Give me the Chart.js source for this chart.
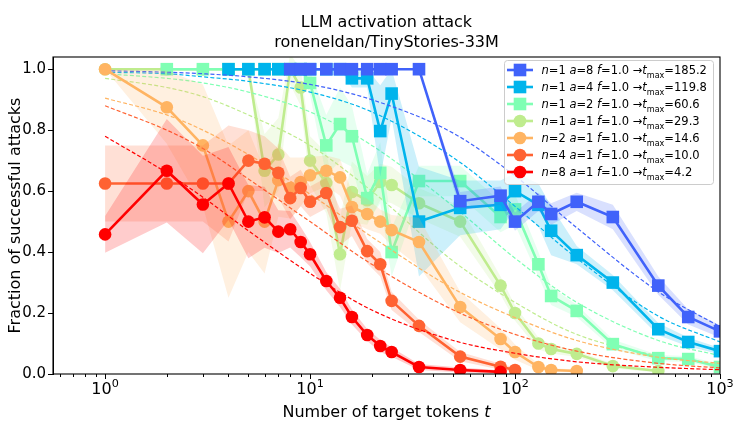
<!DOCTYPE html>
<html>
<head>
<meta charset="utf-8">
<script src="https://cdn.jsdelivr.net/npm/chart.js@4/dist/chart.umd.min.js"></script>
<style>
  html, body { margin: 0; padding: 0; background: #ffffff; }
  #c { display: block; }
</style>
</head>
<body>
<canvas id="c" width="733" height="424"></canvas>
<script>
// ---- measured success fractions (n = attack runs, a = attack tokens) ----
const tokensN1A8 = [8, 9, 10, 12, 14, 16, 19, 22, 25, 34, 54, 85, 100, 130, 150, 200, 300, 500, 700, 1000];
const successN1A8 = [1, 1, 1, 1, 1, 1, 1, 1, 1, 1, 0.567, 0.585, 0.50, 0.565, 0.525, 0.565, 0.515, 0.29, 0.187, 0.14];
const spreadN1A8 = [0, 0, 0, 0, 0, 0, 0, 0, 0, 0, 0.03, 0.03, 0.03, 0.03, 0.035, 0.03, 0.04, 0.03, 0.025, 0.02];

const tokensN1A4 = [4, 5, 6, 7, 8, 9, 10, 12, 14, 16, 19, 22, 25, 34, 54, 85, 100, 130, 150, 200, 300, 500, 700, 1000];
const successN1A4 = [1, 1, 1, 1, 1, 1, 1, 1, 1, 0.97, 0.97, 0.797, 0.92, 0.50, 0.545, 0.555, 0.60, 0.555, 0.47, 0.39, 0.30, 0.147, 0.105, 0.075];
const spreadN1A4 = [0, 0, 0, 0, 0, 0, 0, 0, 0, 0.03, 0.03, 0.15, 0.08, 0.18, 0.09, 0.08, 0.06, 0.07, 0.08, 0.03, 0.025, 0.02, 0.015, 0.01];

const tokensN1A2 = [2, 3, 4, 5, 6, 7, 8, 9, 10, 12, 14, 16, 19, 22, 25, 34, 54, 85, 100, 130, 150, 200, 300, 500, 700, 1000];
const successN1A2 = [1, 1, 1, 1, 1, 1, 1, 1, 0.955, 0.75, 0.82, 0.78, 0.577, 0.66, 0.40, 0.633, 0.633, 0.515, 0.54, 0.36, 0.256, 0.207, 0.098, 0.052, 0.049, 0.023];
const spreadN1A2 = [0, 0, 0, 0, 0, 0, 0, 0, 0.04, 0.1, 0.12, 0.1, 0.08, 0.1, 0.08, 0.05, 0.05, 0.05, 0.05, 0.04, 0.03, 0.02, 0.015, 0.01, 0.01, 0.008];

const tokensN1A1 = [1, 2, 3, 4, 5, 6, 7, 8, 9, 10, 12, 14, 16, 19, 22, 25, 34, 54, 85, 100, 130, 150, 200, 300, 500];
const successN1A1 = [1, 1, 1, 1, 1, 0.667, 0.72, 1, 0.94, 0.70, 0.627, 0.393, 0.597, 0.57, 0.63, 0.62, 0.56, 0.50, 0.29, 0.20, 0.10, 0.082, 0.066, 0.026, 0.01];
const spreadN1A1 = [0, 0, 0, 0, 0, 0.12, 0.12, 0.05, 0.06, 0.08, 0.1, 0.12, 0.1, 0.08, 0.06, 0.06, 0.05, 0.05, 0.03, 0.025, 0.02, 0.015, 0.01, 0.008, 0.005];

const tokensN2A1 = [1, 2, 3, 4, 5, 6, 7, 8, 9, 10, 12, 14, 16, 19, 22, 25, 34, 54, 85, 100, 130, 150, 200];
const successN2A1 = [1, 0.875, 0.75, 0.5, 0.6, 0.5, 0.636, 0.61, 0.63, 0.652, 0.667, 0.645, 0.548, 0.525, 0.5, 0.472, 0.433, 0.22, 0.115, 0.072, 0.023, 0.013, 0.01];
const spreadN2A1 = [0, 0.12, 0.2, 0.25, 0.2, 0.17, 0.12, 0.1, 0.08, 0.06, 0.05, 0.06, 0.05, 0.05, 0.04, 0.05, 0.08, 0.05, 0.035, 0.025, 0.01, 0.006, 0.005];

const tokensN4A1 = [1, 2, 3, 4, 5, 6, 7, 8, 9, 10, 12, 14, 16, 19, 22, 25, 34, 54, 85, 100];
const successN4A1 = [0.625, 0.625, 0.625, 0.625, 0.70, 0.69, 0.66, 0.577, 0.61, 0.565, 0.594, 0.482, 0.503, 0.403, 0.36, 0.24, 0.158, 0.057, 0.024, 0.013];
const spreadN4A1 = [0.125, 0.125, 0.125, 0.19, 0.1, 0.09, 0.08, 0.07, 0.06, 0.05, 0.05, 0.06, 0.05, 0.04, 0.04, 0.03, 0.02, 0.015, 0.01, 0.008];

const tokensN8A1 = [1, 2, 3, 4, 5, 6, 7, 8, 9, 10, 12, 14, 16, 19, 22, 25, 34, 54, 85];
const successN8A1 = [0.458, 0.667, 0.556, 0.625, 0.50, 0.514, 0.467, 0.475, 0.433, 0.393, 0.305, 0.25, 0.187, 0.128, 0.092, 0.072, 0.023, 0.013, 0.007];
const spreadN8A1 = [0.06, 0.17, 0.16, 0.12, 0.12, 0.1, 0.07, 0.06, 0.05, 0.04, 0.03, 0.03, 0.025, 0.02, 0.02, 0.015, 0.01, 0.008, 0.005];

// ---- fitted decay curves (dashed) ----
const fitTokens = [1, 2, 3, 5, 10, 20, 50, 100, 200, 500, 1000];
const fitN1A8 = [0.995, 0.99, 0.985, 0.975, 0.95, 0.90, 0.79, 0.65, 0.48, 0.27, 0.155];
const fitN1A4 = [0.99, 0.985, 0.975, 0.96, 0.925, 0.86, 0.71, 0.55, 0.38, 0.19, 0.105];
const fitN1A2 = [0.985, 0.97, 0.955, 0.925, 0.86, 0.75, 0.55, 0.38, 0.235, 0.11, 0.06];
const fitN1A1 = [0.97, 0.94, 0.91, 0.85, 0.75, 0.60, 0.37, 0.235, 0.13, 0.06, 0.03];
const fitN2A1 = [0.905, 0.85, 0.80, 0.72, 0.59, 0.45, 0.28, 0.185, 0.11, 0.055, 0.035];
const fitN4A1 = [0.88, 0.80, 0.74, 0.64, 0.50, 0.36, 0.21, 0.13, 0.075, 0.035, 0.02];
const fitN8A1 = [0.78, 0.66, 0.58, 0.47, 0.33, 0.21, 0.11, 0.068, 0.04, 0.022, 0.014];

// ---- legend parameters ----
const runCounts = [1, 1, 1, 1, 2, 4, 8];
const attackTokens = [8, 4, 2, 1, 1, 1, 1];
const fractions = ['1.0', '1.0', '1.0', '1.0', '1.0', '1.0', '1.0'];
const tmaxValues = ['185.2', '119.8', '60.6', '29.3', '14.6', '10.0', '4.2'];

// ---- axis ticks ----
const yTickValues = [0, 0.2, 0.4, 0.6, 0.8, 1.0];
const xMajorExponents = [0, 1, 2, 3];

// series in legend order, with styling
const runs = [
  { tokens: tokensN1A8, success: successN1A8, spread: spreadN1A8, fit: fitN1A8, rgb: [64, 98, 250], marker: 'rect' },
  { tokens: tokensN1A4, success: successN1A4, spread: spreadN1A4, fit: fitN1A4, rgb: [0, 180, 236], marker: 'rect' },
  { tokens: tokensN1A2, success: successN1A2, spread: spreadN1A2, fit: fitN1A2, rgb: [128, 255, 180], marker: 'rect' },
  { tokens: tokensN1A1, success: successN1A1, spread: spreadN1A1, fit: fitN1A1, rgb: [191, 236, 142], marker: 'circle' },
  { tokens: tokensN2A1, success: successN2A1, spread: spreadN2A1, fit: fitN2A1, rgb: [255, 180, 98], marker: 'circle' },
  { tokens: tokensN4A1, success: successN4A1, spread: spreadN4A1, fit: fitN4A1, rgb: [255, 98, 50], marker: 'circle' },
  { tokens: tokensN8A1, success: successN8A1, spread: spreadN8A1, fit: fitN8A1, rgb: [255, 0, 0], marker: 'circle' }
];
// stacking from bottom to top
const stacking = [3, 2, 1, 0, 4, 5, 6];

const FONT = '"DejaVu Sans", "Liberation Sans", sans-serif';
const rgba = (c, a) => `rgba(${c[0]},${c[1]},${c[2]},${a})`;
const CIRCLE_R = 6.3;
const RECT_R = 12.6 / Math.SQRT2;

const datasets = [];
stacking.forEach((ri, level) => {
  const r = runs[ri];
  const base = 1000 - level * 10;
  const upperIndex = datasets.length;
  datasets.push({
    data: r.tokens.map((t, i) => ({ x: t, y: r.success[i] + r.spread[i] })),
    borderWidth: 0, pointRadius: 0, fill: false, tension: 0, clip: 0,
    order: base
  });
  datasets.push({
    data: r.tokens.map((t, i) => ({ x: t, y: r.success[i] - r.spread[i] })),
    borderWidth: 0, pointRadius: 0, tension: 0, clip: 0,
    fill: { target: upperIndex },
    backgroundColor: rgba(r.rgb, 0.2),
    order: base - 1
  });
  datasets.push({
    data: r.tokens.map((t, i) => ({ x: t, y: r.success[i] })),
    borderColor: rgba(r.rgb, 1), backgroundColor: rgba(r.rgb, 1),
    borderWidth: 2.6, tension: 0, fill: false, clip: 0,
    pointStyle: r.marker,
    pointRadius: r.marker === 'rect' ? RECT_R : CIRCLE_R,
    pointBorderWidth: 0,
    order: base - 2
  });
  datasets.push({
    data: fitTokens.map((t, i) => ({ x: t, y: r.fit[i] })),
    borderColor: rgba(r.rgb, 1), borderWidth: 1.2, borderDash: [4, 2.2],
    pointRadius: 0, fill: false, clip: 0,
    cubicInterpolationMode: 'monotone',
    order: base - 3
  });
});

// draw a run of text pieces (plain, italic, subscript, superscript)
function richText(ctx, parts, x, y, size, align) {
  const fontOf = p => (p.italic ? 'italic ' : '') + ((p.sub || p.sup) ? size * 0.7 : size) + 'px ' + FONT;
  let total = 0;
  parts.forEach(p => { ctx.font = fontOf(p); p.w = ctx.measureText(p.t).width; total += p.w; });
  let cx = align === 'center' ? x - total / 2 : x;
  parts.forEach(p => {
    ctx.font = fontOf(p);
    const dy = p.sub ? size * 0.28 : (p.sup ? -size * 0.42 : 0);
    ctx.fillText(p.t, cx, y + dy);
    cx += p.w;
  });
  return total;
}

const decorations = {
  id: 'decorations',
  afterDatasetsDraw(chart) {
    const { ctx, chartArea: area, scales } = chart;
    const xs = scales.x;
    ctx.save();
    ctx.fillStyle = '#000';
    ctx.strokeStyle = '#000';
    ctx.textBaseline = 'alphabetic';

    // axes frame
    ctx.lineWidth = 1.1;
    ctx.strokeRect(area.left, area.top, area.right - area.left, area.bottom - area.top);

    // log ticks on the x axis
    ctx.lineWidth = 1;
    for (let e = -1; e <= 3; e++) {
      for (let m = 1; m <= 9; m++) {
        const v = m * Math.pow(10, e);
        if (v < xs.min || v > xs.max * 1.0001) continue;
        const px = Math.round(xs.getPixelForValue(v)) + 0.5;
        const len = m === 1 ? 5 : 3;
        ctx.beginPath();
        ctx.moveTo(px, area.bottom);
        ctx.lineTo(px, area.bottom + len);
        ctx.stroke();
      }
    }
    ctx.fillStyle = '#000';
    xMajorExponents.forEach(e => {
      const px = xs.getPixelForValue(Math.pow(10, e));
      richText(ctx, [{ t: '10' }, { t: String(e), sup: true }], px, area.bottom + 20, 16, 'center');
    });

    // axis titles
    richText(ctx, [{ t: 'Number of target tokens ' }, { t: 't', italic: true }],
      (area.left + area.right) / 2, 417, 16, 'center');
    ctx.save();
    ctx.translate(20, (area.top + area.bottom) / 2);
    ctx.rotate(-Math.PI / 2);
    ctx.font = '16px ' + FONT;
    ctx.textAlign = 'center';
    ctx.fillText('Fraction of successful attacks', 0, 0);
    ctx.restore();

    // title
    ctx.font = '16px ' + FONT;
    ctx.textAlign = 'center';
    const cx = (area.left + area.right) / 2;
    ctx.fillText('LLM activation attack', cx, 27);
    ctx.fillText('roneneldan/TinyStories-33M', cx, 47);
    ctx.textAlign = 'left';

    // legend
    const box = { l: 504.5, t: 60.5, r: 713.5, b: 184.5 };
    ctx.beginPath();
    ctx.roundRect(box.l, box.t, box.r - box.l, box.b - box.t, 3);
    ctx.fillStyle = 'rgba(255,255,255,0.8)';
    ctx.fill();
    ctx.strokeStyle = '#cccccc';
    ctx.lineWidth = 1;
    ctx.stroke();
    runs.forEach((r, i) => {
      const yy = 70 + i * 17.0;
      ctx.strokeStyle = rgba(r.rgb, 1);
      ctx.fillStyle = rgba(r.rgb, 1);
      ctx.lineWidth = 2.6;
      ctx.beginPath();
      ctx.moveTo(507, yy);
      ctx.lineTo(533, yy);
      ctx.stroke();
      if (r.marker === 'rect') {
        ctx.fillRect(520 - 6.3, yy - 6.3, 12.6, 12.6);
      } else {
        ctx.beginPath();
        ctx.arc(520, yy, CIRCLE_R, 0, Math.PI * 2);
        ctx.fill();
      }
      ctx.fillStyle = '#000';
      richText(ctx, [
        { t: 'n', italic: true }, { t: '=' + runCounts[i] + ' ' },
        { t: 'a', italic: true }, { t: '=' + attackTokens[i] + ' ' },
        { t: 'f', italic: true }, { t: '=' + fractions[i] + ' \u2192' },
        { t: 't', italic: true }, { t: 'max', sub: true }, { t: '=' + tmaxValues[i] }
      ], 541.5, yy + 4.3, 11.5, 'left');
    });
    ctx.restore();
  }
};

new Chart(document.getElementById('c'), {
  type: 'line',
  data: { datasets },
  options: {
    responsive: false,
    devicePixelRatio: 1,
    animation: false,
    events: [],
    layout: { padding: { top: 57, right: 13, bottom: 50, left: 0 } },
    plugins: { legend: { display: false }, title: { display: false }, tooltip: { enabled: false } },
    scales: {
      x: {
        type: 'logarithmic', min: 0.557, max: 1000, display: false
      },
      y: {
        type: 'linear', min: 0, max: 1.04,
        afterBuildTicks: s => { s.ticks = yTickValues.map(v => ({ value: v })); },
        afterFit: s => { s.width = 53; },
        ticks: {
          font: { family: FONT, size: 15 }, color: '#000', padding: 2,
          callback: v => Number(v).toFixed(1)
        },
        grid: { drawOnChartArea: false, drawTicks: true, tickLength: 5, tickColor: '#000', tickWidth: 1 },
        border: { display: true, color: '#000', width: 1 }
      }
    }
  },
  plugins: [decorations]
});
</script>
</body>
</html>
